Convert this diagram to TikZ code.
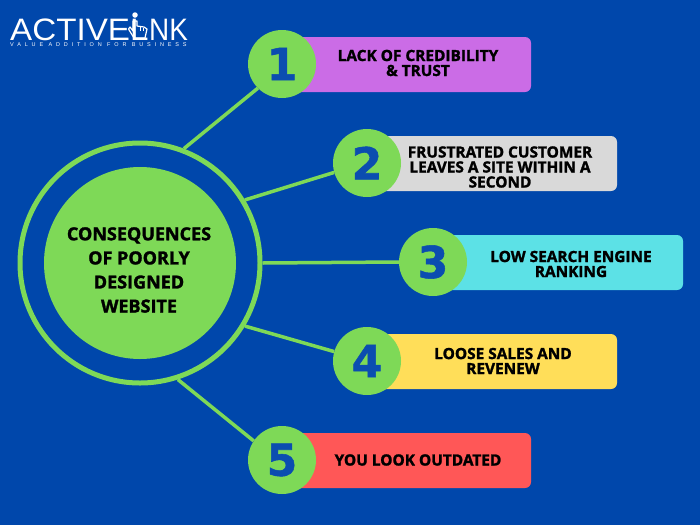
\documentclass[tikz,border=0pt]{standalone}
\usepackage{fontspec}
\setmainfont[BoldFeatures={FakeBold=1.6}]{Open Sans}
\newfontfamily\logofont{Liberation Sans}
\newfontfamily\numfont[BoldFeatures={FakeBold=1.2}]{DejaVu Sans}
\definecolor{bgblue}{HTML}{0047AB}
\definecolor{lime}{HTML}{7ED957}
\definecolor{numblue}{HTML}{0B4DB0}
\definecolor{cpurple}{HTML}{CB6CE6}
\definecolor{cgrey}{HTML}{D9D9D9}
\definecolor{ccyan}{HTML}{5CE1E6}
\definecolor{cyellow}{HTML}{FFDE59}
\definecolor{cred}{HTML}{FF5757}
\tikzset{
  x=1pt,y=-1pt,
  lbl/.style={font=\fontsize{15.4}{15}\selectfont\bfseries,text=black,align=center,inner sep=0pt},
  numc/.style={circle,fill=lime,minimum size=68pt,inner sep=0pt,font=\numfont\fontsize{44}{44}\selectfont\bfseries,text=numblue},
  barbox/.style={rounded corners=6pt,draw=none},
  spoke/.style={draw=lime,line width=3.5pt},
  logotext/.style={anchor=base west,inner sep=0pt,text=white},
}
\begin{document}
\begin{tikzpicture}
\useasboundingbox (0,0) rectangle (700,525);
\fill[bgblue] (0,0) rectangle (700,525);
\node[circle,draw=lime,line width=5pt,minimum size=240pt,inner sep=0pt] (ring) at (140,263) {};
\coordinate (c1) at (282,64);
\coordinate (c2) at (367,163);
\coordinate (c3) at (433,262);
\coordinate (c4) at (367,361);
\coordinate (c5) at (282,460);
\fill[cpurple,barbox] (282,37) rectangle (531,92);
\fill[cgrey,barbox] (367,136) rectangle (617,191);
\fill[ccyan,barbox] (433,235) rectangle (683,290);
\fill[cyellow,barbox] (367,334) rectangle (617,389);
\fill[cred,barbox] (282,433) rectangle (531,488);
\node[numc] (n1) at (c1) {1};
\node[numc] (n2) at (c2) {2};
\node[numc] (n3) at (c3) {3};
\node[numc] (n4) at (c4) {4};
\node[numc] (n5) at (c5) {5};
\draw[spoke] (ring.69) -- (n1.225);
\draw[spoke] (ring.31) -- (n2.196);
\draw[spoke] (ring.0) -- (n3.180);
\draw[spoke] (ring.-31) -- (n4.164);
\draw[spoke] (ring.-72) -- (n5.146);
\node[circle,fill=lime,minimum size=192pt,inner sep=0pt] (hub) at (140,263) {};
\node[lbl,font=\fontsize{18}{24.1}\selectfont\bfseries] (hubt) at (139,270) {CONSEQUENCES\\OF POORLY\\DESIGNED\\WEBSITE};
\node[lbl] (t1) at (418,63) {LACK OF CREDIBILITY\\\& TRUST};
\node[lbl] (t2) at (500,167) {FRUSTRATED CUSTOMER\\LEAVES A SITE WITHIN A\\SECOND};
\node[lbl] (t3) at (571,264) {LOW SEARCH ENGINE\\RANKING};
\node[lbl] (t4) at (503,361) {LOOSE SALES AND\\REVENEW};
\node[lbl] (t5) at (418,460) {YOU LOOK OUTDATED};
% logo
\node[logotext,font=\logofont\fontsize{31}{31}\selectfont\addfontfeature{FakeStretch=1.07}] (logoa) at (10,40) {ACTIVEL};
\node[logotext,font=\logofont\fontsize{31}{31}\selectfont\addfontfeature{FakeStretch=0.9}] (logob) at (149,40) {NK};
\node[circle,fill=white,minimum size=5.5pt,inner sep=0pt] (dot) at (135,15) {};
\draw[white,line width=1.2pt,line join=round] (133,21) -- (133,31) -- (130,27) -- (128.5,29) -- (134,38) -- (145,38) -- (147,29) -- (144,27) -- (137,26) -- (137,21) -- cycle;
\draw[white,line width=0.7pt] (140,27) -- (140,31) (143.5,27.5) -- (143.5,31);
\node[logotext,font=\logofont\fontsize{5.5}{5.5}\selectfont\addfontfeature{LetterSpace=70}] (tag) at (10,46.5) {VALUE ADDITION FOR BUSINESS};
\end{tikzpicture}
\end{document}
